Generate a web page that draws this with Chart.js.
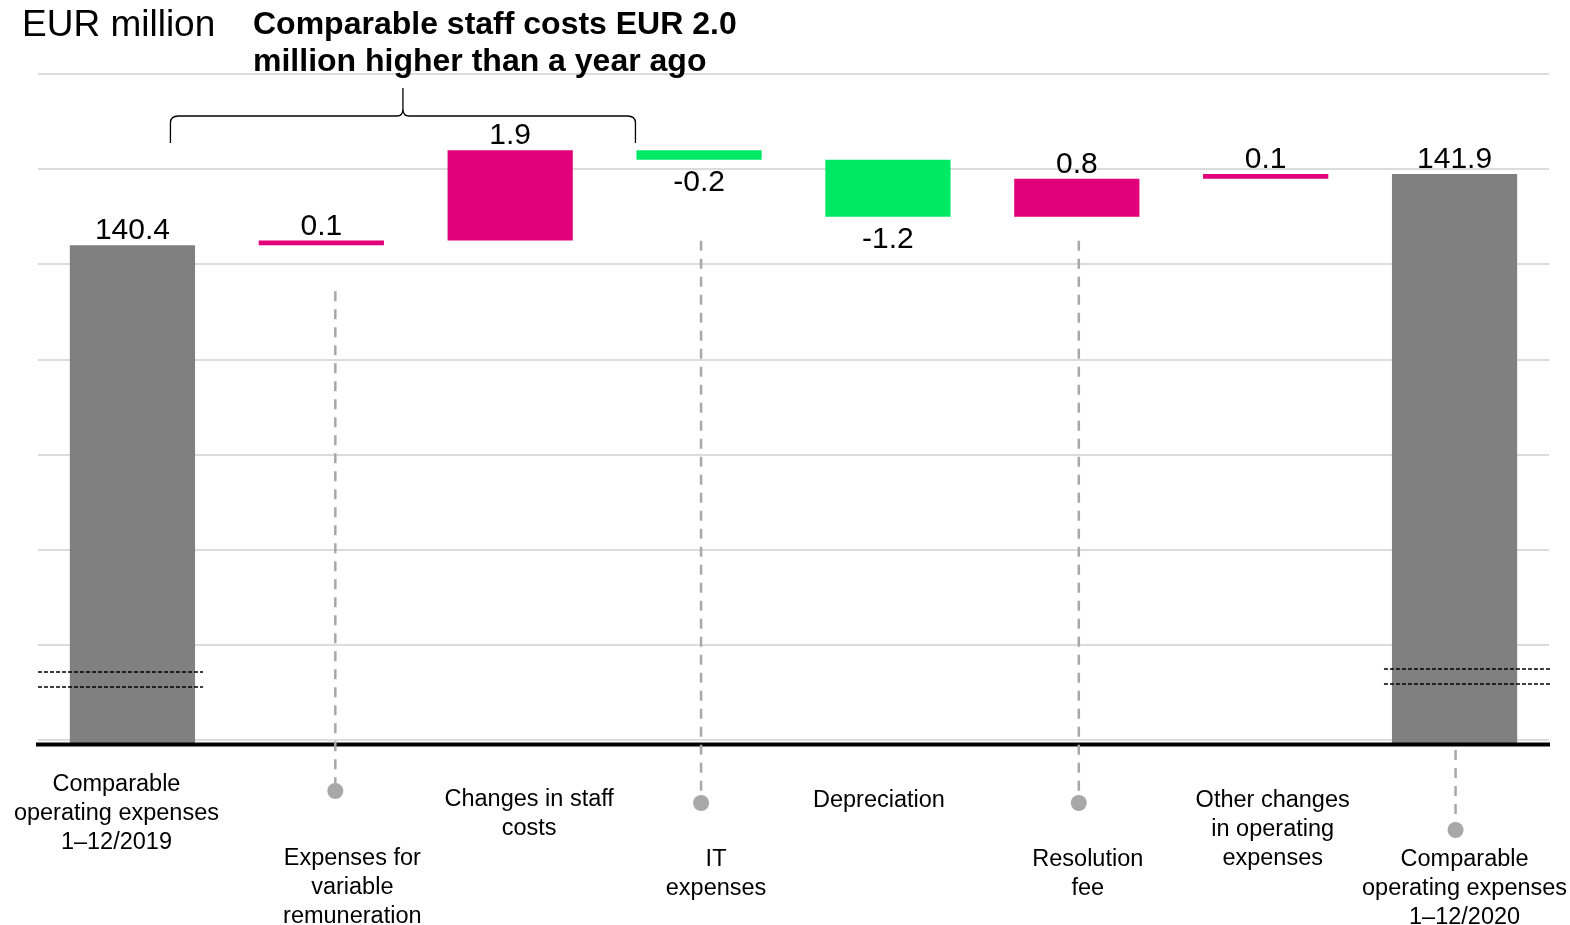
<!DOCTYPE html>
<html>
<head>
<meta charset="utf-8">
<script src="https://cdn.jsdelivr.net/npm/chart.js@4/dist/chart.umd.min.js"></script>
<style>
  body { margin: 0; background: #fff; }
  #wrap { width: 1570px; height: 925px; }
</style>
</head>
<body>
<div id="wrap"><canvas id="chart" width="1570" height="925"></canvas></div>
<script>
  // waterfall data (EUR million)
  const categories = [
    ['Comparable', 'operating expenses', '1\u201312/2019'],
    ['Expenses for', 'variable', 'remuneration'],
    ['Changes in staff', 'costs'],
    ['IT', 'expenses'],
    ['Depreciation'],
    ['Resolution', 'fee'],
    ['Other changes', 'in operating', 'expenses'],
    ['Comparable', 'operating expenses', '1\u201312/2020']
  ];
  const changes = [140.4, 0.1, 1.9, -0.2, -1.2, 0.8, 0.1, 141.9];
  const isTotal = [true, false, false, false, false, false, false, true];
  const valueLabels = ['140.4', '0.1', '1.9', '-0.2', '-1.2', '0.8', '0.1', '141.9'];
  const yTicks = [130, 132, 134, 136, 138, 140, 142, 144];

  const axisMin = 129.92;
  const axisMax = 144;

  const grey = '#808080', pink = '#e2007a', green = '#00e964';

  // build floating bars
  let running = 0;
  const bars = [];
  const barColors = [];
  for (let k = 0; k < changes.length; k++) {
    if (isTotal[k]) {
      bars.push([axisMin, changes[k]]);
      running = changes[k];
      barColors.push(grey);
    } else {
      const start = running;
      running = Math.round((running + changes[k]) * 10) / 10;
      bars.push([start, running]);
      barColors.push(changes[k] >= 0 ? pink : green);
    }
  }

  // label placement below the axis (offsets from category centre / axis line)
  const labelDx = [-16, 31, 19, 17, -9, 11, 7, 10];
  const labelDy = [41, 115, 56, 116, 57, 116, 57, 116];
  const leaders = {1: {dx: 14, gap: 46, dot: 47}, 3: {dx: 2, gap: 81, dot: 59},
                   5: {dx: 2, gap: 24, dot: 59}, 7: {dx: 1, gap: null, dot: 86}};

  const sans = '"Liberation Sans", Arial, sans-serif';

  const decorations = {
    id: 'decorations',
    afterDatasetsDraw(chart) {
      const {ctx, chartArea: {left, right, top, bottom}, scales: {x, y}} = chart;
      const meta = chart.getDatasetMeta(0);
      ctx.save();

      // value labels
      ctx.fillStyle = '#000';
      ctx.font = '30px ' + sans;
      ctx.textAlign = 'center';
      meta.data.forEach((bar, k) => {
        const hi = Math.min(bar.y, bar.base), lo = Math.max(bar.y, bar.base);
        if (changes[k] < 0) {
          ctx.textBaseline = 'top';
          ctx.fillText(valueLabels[k], bar.x, lo + 8);
        } else {
          ctx.textBaseline = 'alphabetic';
          ctx.fillText(valueLabels[k], bar.x, hi - 6);
        }
      });

      // axis break marks on the total bars
      ctx.strokeStyle = '#000';
      ctx.lineWidth = 1.6;
      ctx.setLineDash([4, 2]);
      const b0 = meta.data[0], bN = meta.data[meta.data.length - 1];
      [bottom - 72, bottom - 57].forEach(yy => {
        ctx.beginPath();
        ctx.moveTo(left, yy);
        ctx.lineTo(b0.x + b0.width / 2 + 8, yy);
        ctx.stroke();
      });
      [bottom - 75, bottom - 60].forEach(yy => {
        ctx.beginPath();
        ctx.moveTo(bN.x - bN.width / 2 - 8, yy);
        ctx.lineTo(right + 1, yy);
        ctx.stroke();
      });
      ctx.setLineDash([]);

      // baseline
      ctx.strokeStyle = '#000';
      ctx.lineWidth = 4;
      ctx.beginPath();
      ctx.moveTo(left - 2, bottom + 0.5);
      ctx.lineTo(right + 1, bottom + 0.5);
      ctx.stroke();

      // dashed leader lines + dots
      ctx.strokeStyle = '#a8a8a8';
      ctx.fillStyle = '#a8a8a8';
      ctx.lineWidth = 2.5;
      for (const key in leaders) {
        const k = +key, L = leaders[k];
        const px = x.getPixelForValue(k) + L.dx;
        const barBottom = y.getPixelForValue(Math.min(bars[k][0], bars[k][1]));
        const lineTop = L.gap === null ? bottom + 6 : barBottom + L.gap;
        const dotY = bottom + L.dot;
        ctx.setLineDash([10, 8]);
        ctx.beginPath();
        ctx.moveTo(px, lineTop);
        ctx.lineTo(px, dotY);
        ctx.stroke();
        ctx.setLineDash([]);
        ctx.beginPath();
        ctx.arc(px, dotY, 8, 0, Math.PI * 2);
        ctx.fill();
      }

      // category labels
      ctx.fillStyle = '#000';
      ctx.font = '23.5px ' + sans;
      ctx.textAlign = 'center';
      ctx.textBaseline = 'middle';
      categories.forEach((lines, k) => {
        const cx = x.getPixelForValue(k) + labelDx[k];
        lines.forEach((t, n) => ctx.fillText(t, cx, bottom + labelDy[k] + n * 29));
      });

      // brace over the staff cost bars
      ctx.strokeStyle = '#000';
      const bl = x.getPixelForValue(0) + 38;
      const br = meta.data[3].x - meta.data[3].width / 2 - 1;
      const bm = (bl + br) / 2;
      const yh = top + 42, ye = top + 69, yt = top + 14;
      ctx.lineWidth = 1.3;
      ctx.beginPath();
      ctx.moveTo(bl, ye);
      ctx.lineTo(bl, yh + 7);
      ctx.quadraticCurveTo(bl, yh, bl + 8, yh);
      ctx.lineTo(bm - 6, yh);
      ctx.quadraticCurveTo(bm, yh, bm, yh - 7);
      ctx.lineTo(bm, yt);
      ctx.moveTo(bm, yh - 7);
      ctx.quadraticCurveTo(bm, yh, bm + 6, yh);
      ctx.lineTo(br - 8, yh);
      ctx.quadraticCurveTo(br, yh, br, yh + 7);
      ctx.lineTo(br, ye);
      ctx.stroke();

      // headings
      ctx.textAlign = 'left';
      ctx.textBaseline = 'alphabetic';
      ctx.font = '37px ' + sans;
      ctx.fillText('EUR million', 22, 36);
      ctx.font = 'bold 32px ' + sans;
      ctx.fillText('Comparable staff costs EUR 2.0', 253, 34);
      ctx.fillText('million higher than a year ago', 253, 71);

      ctx.restore();
    }
  };

  const chart = new Chart('chart', {
    type: 'bar',
    data: {
      labels: categories,
      datasets: [{
        data: bars,
        backgroundColor: barColors,
        borderWidth: 0,
        categoryPercentage: 1,
        barPercentage: 0.663,
        borderSkipped: false
      }]
    },
    options: {
      responsive: false,
      animation: false,
      devicePixelRatio: 1,
      layout: { padding: { left: 38, right: 21, top: 74, bottom: 181 } },
      plugins: {
        legend: { display: false },
        tooltip: { enabled: false },
        title: { display: false }
      },
      scales: {
        x: { display: false },
        y: {
          min: axisMin,
          max: axisMax,
          afterBuildTicks: (axis) => { axis.ticks = yTicks.map(v => ({value: v})); },
          ticks: { display: false },
          border: { display: false },
          grid: { color: '#dcdcdc', lineWidth: 2, drawTicks: false }
        }
      }
    },
    plugins: [decorations]
  });
</script>
</body>
</html>
